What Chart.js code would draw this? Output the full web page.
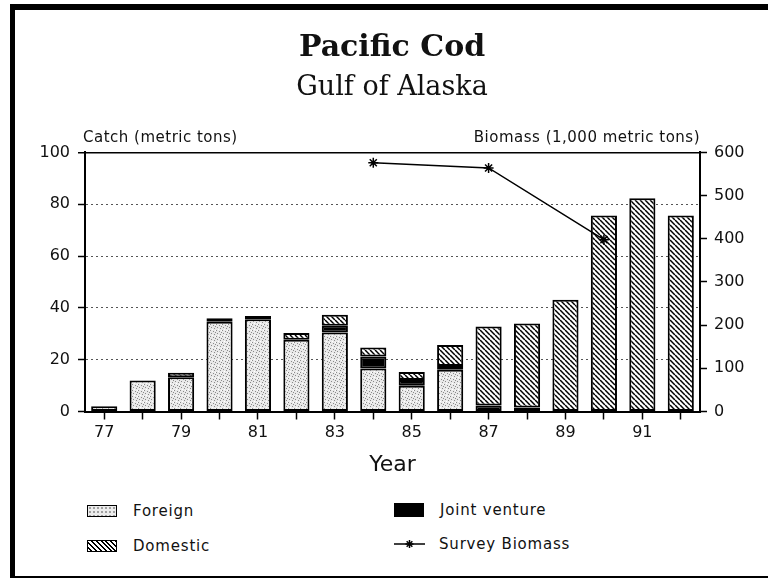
<!DOCTYPE html>
<html>
<head>
<meta charset="utf-8">
<title>Pacific Cod - Gulf of Alaska</title>
<script src="https://cdn.jsdelivr.net/npm/chart.js@4.4.1/dist/chart.umd.min.js"></script>
<style>
  html, body { margin: 0; padding: 0; background: #fff; }
  #page { position: relative; width: 768px; height: 578px; overflow: hidden; background: #fff;
          font-family: 'DejaVu Sans', sans-serif; color: #111; }
  #chart-wrap { position: absolute; left: 0; top: 0; width: 768px; height: 490px; }
  .frame { position: absolute; background: #000; }
  .legend-item { position: absolute; height: 18px; display: flex; align-items: center;
                 font-size: 15px; letter-spacing: 0.8px; white-space: nowrap; }
  .swatch { box-sizing: border-box; width: 30px; height: 12px; border: 1.5px solid #000; margin-right: 16px; }
  .sw-foreign { background-color: #ececec;
                background-image: radial-gradient(#777 0.6px, transparent 0.9px);
                background-size: 4px 4px; }
  .sw-domestic { background: repeating-linear-gradient(45deg, #fff 0 2px, #000 2px 3.4px); }
  .sw-jv { background: #000; height: 14px; }
  .sw-line { width: 31px; height: 14px; margin-right: 14px; }
</style>
</head>
<body>
<div id="page">
  <div id="chart-wrap"><canvas id="chart" width="768" height="490"></canvas></div>

  <div class="frame" style="left:10px; top:4px; width:758px; height:6px;"></div>
  <div class="frame" style="left:10px; top:4px; width:5px; height:574px;"></div>
  <div class="frame" style="left:10px; top:576px; width:758px; height:2px;"></div>

  <div class="legend-item" style="left:87px; top:502px;"><div class="swatch sw-foreign"></div>Foreign</div>
  <div class="legend-item" style="left:87px; top:537px;"><div class="swatch sw-domestic"></div>Domestic</div>
  <div class="legend-item" style="left:394px; top:501px;"><div class="swatch sw-jv"></div>Joint venture</div>
  <div class="legend-item" style="left:394px; top:535px;"><canvas class="sw-line" id="lineSwatch" width="31" height="14"></canvas>Survey Biomass</div>
</div>

<script>
// Catch by sector
const years = ['77', '78', '79', '80', '81', '82', '83', '84', '85', '86', '87', '88', '89', '90', '91', '92'];
const foreign = [2, 12, 13.2, 34.6, 35.6, 27.7, 30.5, 16.6, 9.9, 16.1, null, null, null, null, null, null];
const jointVenture = [null, null, null, 1.4, null, null, 2.6, 4.6, 2.3, 1.5, 2.3, 1.5, null, null, null, null];
const domestic = [null, null, 1.8, null, 1.3, 2.6, 4.2, 3.5, 3.0, 8.1, 30.5, 32.5, 43.1, 75.6, 82.3, 75.6];
// Survey biomass (1,000 metric tons), triennial surveys
const surveyBiomass = [null, null, null, null, null, null, null, 576, null, null, 564, null, null, 398, null, null];

const catchTicks = [0, 20, 40, 60, 80, 100];
const biomassTicks = [0, 100, 200, 300, 400, 500, 600];

const leftCaption = 'Catch (metric tons)';
const rightCaption = 'Biomass (1,000 metric tons)';

Chart.defaults.font.family = "'DejaVu Sans', sans-serif";
Chart.defaults.color = '#111';

function stipplePattern() {
  const c = document.createElement('canvas');
  c.width = 6; c.height = 6;
  const g = c.getContext('2d');
  g.fillStyle = '#e9e9e9';
  g.fillRect(0, 0, 6, 6);
  g.fillStyle = '#8a8a8a';
  [[0, 0], [3, 1], [1, 3], [4, 4], [5, 2]].forEach(([x, y]) => g.fillRect(x, y, 1, 1));
  g.fillStyle = '#ffffff';
  [[2, 5], [5, 0]].forEach(([x, y]) => g.fillRect(x, y, 1, 1));
  return g.createPattern(c, 'repeat');
}

function hatchPattern() {
  const s = 5;
  const c = document.createElement('canvas');
  c.width = s; c.height = s;
  const g = c.getContext('2d');
  g.fillStyle = '#fff';
  g.fillRect(0, 0, s, s);
  g.strokeStyle = '#000';
  g.lineWidth = 1.5;
  for (let k = -1; k <= 1; k++) {
    g.beginPath();
    g.moveTo(k * s, 0);
    g.lineTo(k * s + s, s);
    g.stroke();
  }
  return g.createPattern(c, 'repeat');
}

// "Catch (...)" and "Biomass (...)" sit above the axes, horizontal
const axisCaptions = {
  id: 'axisCaptions',
  afterDraw(chart) {
    const { ctx, chartArea } = chart;
    ctx.save();
    ctx.font = "15px 'DejaVu Sans'";
    ctx.letterSpacing = '0.5px';
    ctx.fillStyle = '#111';
    ctx.textBaseline = 'alphabetic';
    ctx.textAlign = 'left';
    ctx.fillText(leftCaption, chartArea.left - 2, chartArea.top - 10);
    ctx.textAlign = 'right';
    ctx.fillText(rightCaption, chartArea.right, chartArea.top - 10);
    ctx.restore();
  }
};

const barCommon = {
  borderColor: '#000',
  borderWidth: 2,
  borderSkipped: false,
  barPercentage: 0.68,
  categoryPercentage: 1,
  yAxisID: 'y',
  order: 1,
};

new Chart(document.getElementById('chart'), {
  type: 'bar',
  data: {
    labels: years,
    datasets: [
      { ...barCommon, label: 'Foreign', data: foreign, backgroundColor: stipplePattern() },
      { ...barCommon, label: 'Joint venture', data: jointVenture, backgroundColor: '#000' },
      { ...barCommon, label: 'Domestic', data: domestic, backgroundColor: hatchPattern() },
      {
        type: 'line',
        label: 'Survey Biomass',
        data: surveyBiomass,
        yAxisID: 'y1',
        order: 0,
        spanGaps: true,
        borderColor: '#000',
        borderWidth: 1.5,
        pointStyle: 'star',
        pointRadius: 5,
        pointBorderWidth: 1.5,
        pointBorderColor: '#000',
        pointBackgroundColor: '#000',
      },
    ],
  },
  options: {
    responsive: false,
    animation: false,
    devicePixelRatio: 1,
    layout: { padding: { left: 16, right: 0, top: 0, bottom: 0 } },
    plugins: {
      legend: { display: false },
      tooltip: { enabled: false },
      title: {
        display: true,
        text: 'Pacific Cod',
        color: '#111',
        font: { family: "'DejaVu Serif', serif", size: 30, weight: 'bold' },
        padding: { top: 30, bottom: 2 },
      },
      subtitle: {
        display: true,
        text: 'Gulf of Alaska',
        color: '#111',
        font: { family: "'DejaVu Serif', serif", size: 27, weight: 'normal' },
        padding: { top: 4, bottom: 48 },
      },
    },
    scales: {
      x: {
        stacked: true,
        offset: true,
        grid: { offset: false, drawOnChartArea: false, drawTicks: true, tickLength: 8, tickColor: '#000', tickWidth: 1.5 },
        border: { color: '#000', width: 2 },
        ticks: {
          autoSkip: false,
          maxRotation: 0,
          padding: 4,
          color: '#111',
          font: { size: 16 },
          callback: (v, i) => (i % 2 === 0 ? years[i] : ''),
        },
        title: { display: true, text: 'Year', color: '#111', font: { size: 22 }, padding: { top: 0, bottom: 12 } },
        afterFit: (s) => { s.height = 78.5; },
      },
      y: {
        position: 'left',
        stacked: true,
        min: 0,
        max: 100,
        afterBuildTicks: (s) => { s.ticks = catchTicks.map((value) => ({ value })); },
        ticks: { color: '#111', font: { size: 16 }, padding: 8 },
        grid: {
          color: (c) => (c.tick && c.tick.value === 100 ? '#000' : '#555'),
          lineWidth: (c) => (c.tick && c.tick.value === 100 ? 1.5 : 1),
          tickLength: 7,
          tickColor: '#000',
          tickWidth: 1.5,
        },
        border: { color: '#000', width: 2, dash: (c) => (c.tick && c.tick.value === 100 ? [] : [2, 3]) },
        afterFit: (s) => { s.width = 69; },
      },
      y1: {
        position: 'right',
        min: 0,
        max: 600,
        afterBuildTicks: (s) => { s.ticks = biomassTicks.map((value) => ({ value })); },
        ticks: { color: '#111', font: { size: 16 }, padding: 7 },
        grid: { drawOnChartArea: false, tickLength: 7, tickColor: '#000', tickWidth: 1.5 },
        border: { color: '#000', width: 2 },
        afterFit: (s) => { s.width = 68; },
      },
    },
  },
  plugins: [axisCaptions],
});

// small line+star swatch for the legend
(function drawLineSwatch() {
  const g = document.getElementById('lineSwatch').getContext('2d');
  g.strokeStyle = '#000';
  g.lineWidth = 1.5;
  g.beginPath();
  g.moveTo(0, 7); g.lineTo(31, 7);
  g.stroke();
  const r = 4;
  for (let a = 0; a < 4; a++) {
    const t = a * Math.PI / 4;
    g.beginPath();
    g.moveTo(15.5 - r * Math.cos(t), 7 - r * Math.sin(t));
    g.lineTo(15.5 + r * Math.cos(t), 7 + r * Math.sin(t));
    g.stroke();
  }
})();
</script>
</body>
</html>
